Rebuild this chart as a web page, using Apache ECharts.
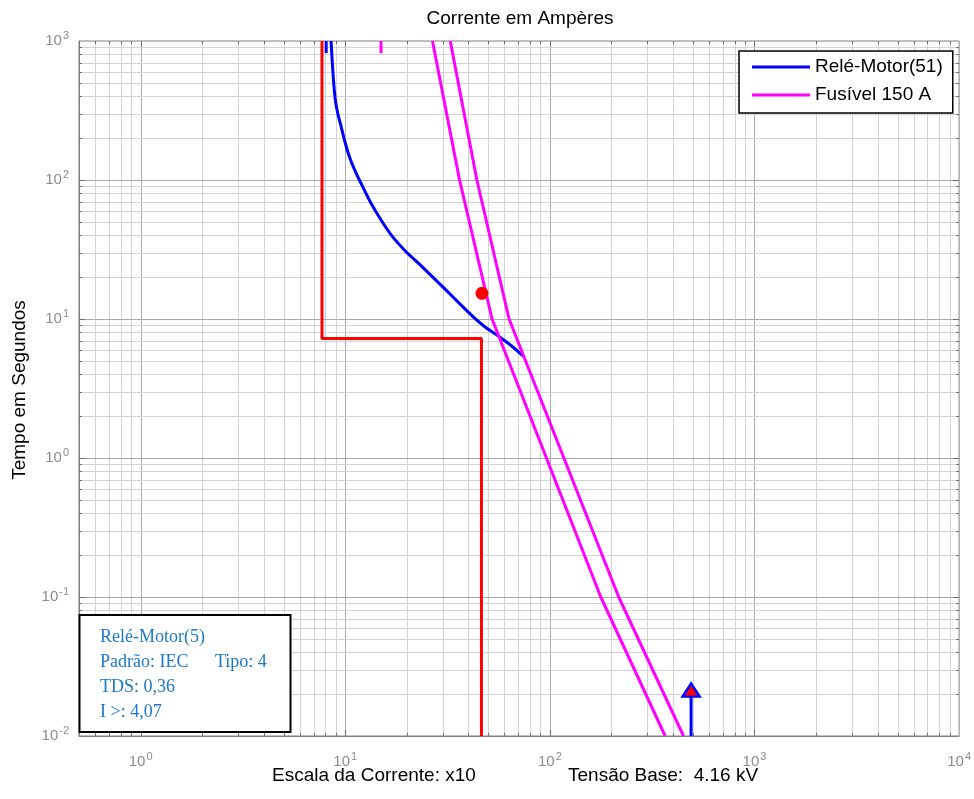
<!DOCTYPE html>
<html>
<head>
<meta charset="utf-8">
<script src="https://cdn.jsdelivr.net/npm/echarts@6/dist/echarts.min.js"></script>
<style>
  html, body { margin: 0; padding: 0; background: #fff; }
  #chart { width: 974px; height: 799px; }
</style>
</head>
<body>
<div id="chart"></div>
<script>
// ---- Axis limits (both axes logarithmic) ----
const currentRange = [0.5, 10000];   // corrente (x10 A)
const timeRange = [0.01, 1000];      // tempo (s)

// Decades and sub-divisions used for the log grid
const xDecades = [0.1, 1, 10, 100, 1000];
const yDecades = [0.01, 0.1, 1, 10, 100];
const decadeSteps = [1, 2, 3, 4, 5, 6, 7, 8, 9];

// ---- Curves: [corrente, tempo] ----
// Relé-Motor(51), IEC tipo 4, TDS 0,36
const relayCurve = [
  [8.53, 1000], [8.63, 730], [8.76, 524], [8.95, 376], [9.19, 302],
  [9.55, 242], [9.91, 194], [10.48, 147], [11.30, 112], [12.17, 89.5],
  [13.37, 68.0], [14.96, 51.6], [17.03, 39.1], [19.81, 30.5], [22.99, 24.9],
  [26.70, 20.1], [31.03, 16.2], [36.03, 13.0], [41.83, 10.5], [48.63, 8.69],
  [56.44, 7.48], [65.54, 6.34], [74.73, 5.36]
];
const relayStub = [[8.07, 1000], [8.07, 820]];

// Fusível 150 A: fusão mínima e interrupção total
const fuseMinMelt = [[26.7, 1000], [36.2, 100], [52.2, 10], [177.4, 0.1], [366, 0.01]];
const fuseTotalClear = [[32.6, 1000], [44.0, 100], [63.2, 10], [217, 0.1], [450, 0.01]];
const fuseStub = [[14.96, 1000], [14.96, 820]];

// Partida do motor e ponto de rotor bloqueado
const motorStart = [[7.7, 1000], [7.7, 7.25], [46.3, 7.25], [46.3, 0.01]];
const lockedRotor = [[46.6, 15.3]];

// Unidade instantânea
const instantLine = [[490, 0.01], [490, 0.0214]];
const instantMark = [[490, 0.0214]];

// ---- Texts ----
const titleText = 'Corrente em Ampères';
const yAxisTitle = 'Tempo em Segundos';
const scaleText = 'Escala da Corrente: x10';
const baseText = 'Tensão Base:  4.16 kV';
const legendNames = ['Relé-Motor(51)', 'Fusível 150 A'];
const infoLines = ['Relé-Motor(5)', 'Padrão: IEC', 'TDS: 0,36', 'I >: 4,07'];
const infoType = 'Tipo: 4';

// ---- Styling ----
const sans = 'Liberation Sans, Arial, Helvetica, sans-serif';
const serif = 'Liberation Serif, Times New Roman, serif';
const tickLabelColor = '#8c8c8c';
const majorGridColor = '#a9a9a9';
const minorGridColor = '#d3d3d3';
const tickMarkColor = '#6e6e6e';
const frameColor = '#7f7f7f';
const infoColor = '#1c78c8';

function gridValues(decades, lo, hi) {
  const out = [];
  decades.forEach(d => decadeSteps.forEach(s => {
    const v = +(d * s).toPrecision(6);
    if (v > lo * 1.0001 && v < hi * 0.9999) out.push({ v: v, major: s === 1 ? 1 : 0 });
  }));
  return out;
}
const xGrid = gridValues(xDecades, currentRange[0], currentRange[1]);
const yGrid = gridValues(yDecades, timeRange[0], timeRange[1]);

function crisp(p) { return Math.round(p) + 0.5; }

function renderVerticalGrid(params, api) {
  const v = api.value(0);
  const major = api.value(2) === 1;
  const bot = api.coord([v, timeRange[0]]);
  const top = api.coord([v, timeRange[1]]);
  const x = crisp(bot[0]);
  const len = major ? 6 : 3;
  const tickStyle = { stroke: tickMarkColor, lineWidth: 1 };
  return {
    type: 'group',
    children: [
      { type: 'line', shape: { x1: x, y1: top[1], x2: x, y2: bot[1] },
        style: { stroke: major ? majorGridColor : minorGridColor, lineWidth: 1 } },
      { type: 'line', shape: { x1: x, y1: bot[1], x2: x, y2: bot[1] - len }, style: tickStyle },
      { type: 'line', shape: { x1: x, y1: top[1], x2: x, y2: top[1] + len }, style: tickStyle }
    ]
  };
}

function renderHorizontalGrid(params, api) {
  const v = api.value(1);
  const major = api.value(2) === 1;
  const left = api.coord([currentRange[0], v]);
  const right = api.coord([currentRange[1], v]);
  const y = crisp(left[1]);
  const len = major ? 6 : 3;
  const tickStyle = { stroke: tickMarkColor, lineWidth: 1 };
  return {
    type: 'group',
    children: [
      { type: 'line', shape: { x1: left[0], y1: y, x2: right[0], y2: y },
        style: { stroke: major ? majorGridColor : minorGridColor, lineWidth: 1 } },
      { type: 'line', shape: { x1: left[0], y1: y, x2: left[0] + len, y2: y }, style: tickStyle },
      { type: 'line', shape: { x1: right[0], y1: y, x2: right[0] - len, y2: y }, style: tickStyle }
    ]
  };
}

function powerLabel(value) {
  const e = Math.log10(value);
  const r = Math.round(e);
  if (Math.abs(e - r) > 1e-6) return '';
  return '{b|10}{e|' + r + '}';
}
const tickRich = {
  b: { fontSize: 15, color: tickLabelColor, fontFamily: sans },
  e: { fontSize: 11, color: tickLabelColor, fontFamily: sans, padding: [0, 0, 10, 1] }
};

const chart = echarts.init(document.getElementById('chart'), null, { renderer: 'canvas' });

function infoText(text, x, y) {
  return {
    type: 'text', x: x, y: y, z: 101,
    style: { text: text, font: '18px ' + serif, fill: infoColor, textVerticalAlign: 'middle' }
  };
}

const option = {
  animation: false,
  backgroundColor: '#ffffff',
  grid: {
    left: 79, right: 13, top: 41, bottom: 63,
    show: true, borderColor: frameColor, borderWidth: 1, backgroundColor: '#fff'
  },
  xAxis: {
    type: 'log', logBase: 10,
    min: currentRange[0], max: currentRange[1],
    axisLine: { show: true, lineStyle: { color: frameColor, width: 1 } },
    axisTick: { show: false },
    splitLine: { show: false },
    axisLabel: { formatter: powerLabel, rich: tickRich, margin: 15, showMinLabel: true, showMaxLabel: true, hideOverlap: false }
  },
  yAxis: {
    type: 'log', logBase: 10,
    min: timeRange[0], max: timeRange[1],
    axisLine: { show: true, lineStyle: { color: frameColor, width: 1 } },
    axisTick: { show: false },
    splitLine: { show: false },
    axisLabel: { formatter: powerLabel, rich: tickRich, margin: 10, showMinLabel: true, showMaxLabel: true }
  },
  legend: {
    data: legendNames,
    orient: 'vertical',
    left: 739, top: 51,
    padding: [5, 10, 7, 13],
    itemGap: 6,
    itemWidth: 58, itemHeight: 3,
    icon: 'rect',
    selectedMode: false,
    backgroundColor: '#fff',
    borderColor: '#000', borderWidth: 1.5, borderRadius: 0,
    textStyle: { fontSize: 19, fontFamily: sans, color: '#000', lineHeight: 22 }
  },
  series: [
    {
      type: 'custom', name: 'gridX', silent: true, z: 1,
      dimensions: ['x', 'y', 'major'], encode: { x: 0, y: 1 },
      renderItem: renderVerticalGrid,
      data: xGrid.map(g => [g.v, timeRange[0], g.major])
    },
    {
      type: 'custom', name: 'gridY', silent: true, z: 1,
      dimensions: ['x', 'y', 'major'], encode: { x: 0, y: 1 },
      renderItem: renderHorizontalGrid,
      data: yGrid.map(g => [currentRange[0], g.v, g.major])
    },
    {
      type: 'line', name: 'motorStart', data: motorStart, symbol: 'none', z: 3,
      lineStyle: { color: '#ff0000', width: 3 }, itemStyle: { color: '#ff0000' }
    },
    {
      type: 'line', name: legendNames[0], data: relayCurve, symbol: 'none', z: 4, smooth: 0.15,
      lineStyle: { color: '#0000ff', width: 3 }, itemStyle: { color: '#0000ff' }
    },
    {
      type: 'line', name: legendNames[0], data: relayStub, symbol: 'none', z: 4,
      lineStyle: { color: '#0000ff', width: 3 }, itemStyle: { color: '#0000ff' }
    },
    {
      type: 'line', name: legendNames[1], data: fuseMinMelt, symbol: 'none', z: 5,
      lineStyle: { color: '#ff00ff', width: 3 }, itemStyle: { color: '#ff00ff' }
    },
    {
      type: 'line', name: legendNames[1], data: fuseTotalClear, symbol: 'none', z: 5,
      lineStyle: { color: '#ff00ff', width: 3 }, itemStyle: { color: '#ff00ff' }
    },
    {
      type: 'line', name: legendNames[1], data: fuseStub, symbol: 'none', z: 5,
      lineStyle: { color: '#ff00ff', width: 3 }, itemStyle: { color: '#ff00ff' }
    },
    {
      type: 'line', name: 'instantLine', data: instantLine, symbol: 'none', z: 6,
      lineStyle: { color: '#0000ff', width: 3 }
    },
    {
      type: 'scatter', name: 'instantMark', data: instantMark, z: 7,
      symbol: 'triangle', symbolSize: [17, 13],
      itemStyle: { color: '#ff0000', borderColor: '#0000ff', borderWidth: 2.5, opacity: 1 }
    },
    {
      type: 'scatter', name: 'lockedRotor', data: lockedRotor, z: 7,
      symbol: 'circle', symbolSize: 13,
      itemStyle: { color: '#ff0000', opacity: 1 }
    }
  ],
  graphic: {
    z: 100,
    elements: [
      {
        type: 'text', x: 520, y: 19,
        style: { text: titleText, font: '19px ' + sans, fill: '#000', textAlign: 'center', textVerticalAlign: 'middle' }
      },
      {
        type: 'text', x: 20, y: 390, rotation: Math.PI / 2,
        style: { text: yAxisTitle, font: '19px ' + sans, fill: '#000', textAlign: 'center', textVerticalAlign: 'middle' }
      },
      {
        type: 'text', x: 272, y: 776,
        style: { text: scaleText, font: '19px ' + sans, fill: '#000', textAlign: 'left', textVerticalAlign: 'middle' }
      },
      {
        type: 'text', x: 568, y: 776,
        style: { text: baseText, font: '19px ' + sans, fill: '#000', textAlign: 'left', textVerticalAlign: 'middle' }
      },
      {
        type: 'rect', z: 100, shape: { x: 79.5, y: 615, width: 211, height: 117 },
        style: { fill: '#fff', stroke: '#000', lineWidth: 2 }
      },
      infoText(infoLines[0], 100, 637.5),
      infoText(infoLines[1], 100, 662),
      infoText(infoType, 215, 662),
      infoText(infoLines[2], 100, 687),
      infoText(infoLines[3], 100, 712)
    ]
  }
};

chart.setOption(option);
</script>
</body>
</html>
